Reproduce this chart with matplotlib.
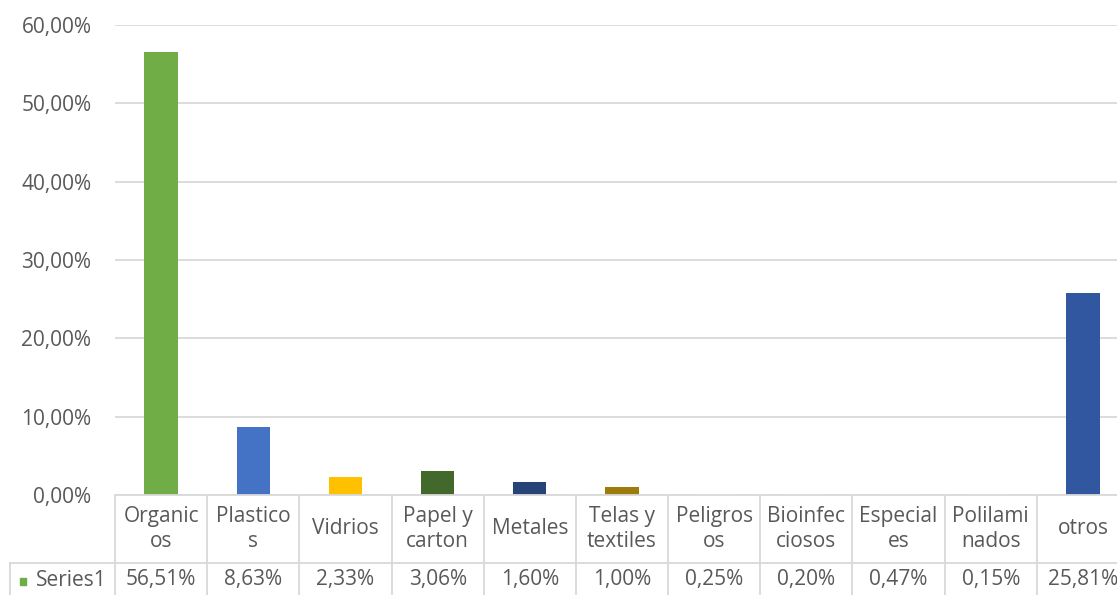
import matplotlib
matplotlib.use('Agg')
import matplotlib.pyplot as plt
import matplotlib.transforms as mtransforms
from matplotlib.lines import Line2D
import numpy as np

plt.rcParams['font.family'] = ['Open Sans', 'DejaVu Sans']

# data
labels = ['Organic\nos', 'Plastico\ns', 'Vidrios', 'Papel y\ncarton', 'Metales',
          'Telas y\ntextiles', 'Peligros\nos', 'Bioinfec\nciosos', 'Especial\nes',
          'Polilami\nnados', 'otros']
values = [56.51, 8.63, 2.33, 3.06, 1.60, 1.00, 0.25, 0.20, 0.47, 0.15, 25.81]
# the four tiny bars do not show in the original picture
colors = ['#70AD47', '#4472C4', '#FFC000', '#43682B', '#264478', '#9E7C0C',
          'white', 'white', 'white', 'white', '#3057A0']
series_name = 'Series1'
yticks = [0, 10, 20, 30, 40, 50, 60]

W, H = 1117, 595
fig = plt.figure(figsize=(W / 100, H / 100), dpi=100)
x0, x1 = 115, 1129
ytop, ybot = 25, 495
ax = fig.add_axes([x0 / W, 1 - ybot / H, (x1 - x0) / W, (ybot - ytop) / H])

txt = '#595959'
grid = '#D9D9D9'
fs = 15

x = np.arange(len(values))
ax.bar(x, values, width=0.36, color=colors, zorder=3)
ax.set_xlim(-0.5, len(values) - 0.5)
ax.set_ylim(0, 60)
ax.set_yticks(yticks)
ax.set_yticklabels(['%d,00%%' % v for v in yticks], color=txt, fontsize=fs)
ax.tick_params(axis='y', length=0, pad=17)
ax.set_xticks([])
for s in ax.spines.values():
    s.set_visible(False)
ax.yaxis.grid(True, color=grid, linewidth=1.3, zorder=0)
ax.set_axisbelow(True)

# data table below the axes
tr = mtransforms.blended_transform_factory(ax.transData, ax.transAxes)
axh = ybot - ytop
r1 = -(563 - ybot) / axh
r2 = -(598 - ybot) / axh
lw = 1.3
ax.add_line(Line2D([-0.5, len(values) - 0.5], [0, 0], transform=tr, color=grid,
                   lw=lw, clip_on=False, zorder=4))
left_px = 10
left_data = -0.5 - (x0 - left_px) / ((x1 - x0) / len(values))
for yy in (r1, r2):
    ax.add_line(Line2D([left_data, len(values) - 0.5], [yy, yy], transform=tr,
                       color=grid, lw=lw, clip_on=False))
for i in range(len(values) + 1):
    ax.add_line(Line2D([i - 0.5, i - 0.5], [0, r2], transform=tr, color=grid,
                       lw=lw, clip_on=False))
ax.add_line(Line2D([left_data, left_data], [r1, r2], transform=tr, color=grid,
                   lw=lw, clip_on=False))

for i, (lab, v) in enumerate(zip(labels, values)):
    ax.text(i, r1 / 2, lab, transform=tr, ha='center', va='center', color=txt,
            fontsize=fs, linespacing=1.3, clip_on=False)
    ax.text(i, (r1 + r2) / 2 + 0.003, ('%.2f%%' % v).replace('.', ','),
            transform=tr, ha='center', va='center', color=txt, fontsize=fs,
            clip_on=False)

# legend key in table
fig.patches.append(plt.Rectangle((20 / W, 1 - 585 / H), 6 / W, 7 / H,
                                 color=colors[0], transform=fig.transFigure))
fig.text(36 / W, 1 - 580 / H, series_name, color=txt, fontsize=fs,
         ha='left', va='center')

fig.savefig('out.png', dpi=100)
